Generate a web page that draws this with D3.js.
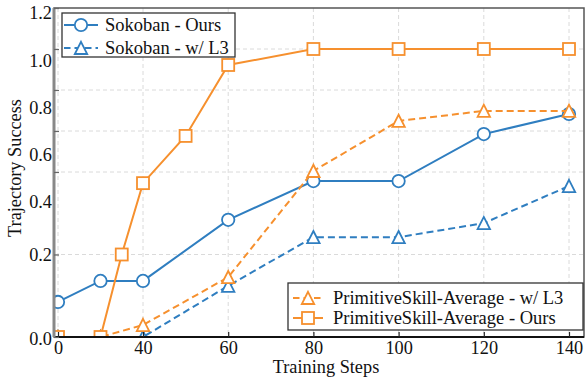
<!DOCTYPE html>
<html>
<head>
<meta charset="utf-8">
<script src="https://cdn.jsdelivr.net/npm/d3@7"></script>
<style>
  body { margin: 0; background: #fff; }
  svg { display: block; }
  text { font-family: "Liberation Serif", "Times New Roman", serif; fill: #111; }
</style>
</head>
<body>
<svg id="chart" width="588" height="378"></svg>
<script>
// Training steps at which each run was evaluated
const steps = [0, 20, 40, 60, 80, 100, 120, 140];
const stepsFine = [0, 20, 30, 40, 50, 60, 80, 100, 120, 140];

// Trajectory success per run
const sokobanOurs = [0.085, 0.136, 0.136, 0.284, 0.378, 0.378, 0.585, 0.683];
const sokobanL3   = [0, 0, 0, 0.124, 0.242, 0.242, 0.276, 0.366];
const primL3      = [0, 0, 0.029, 0.145, 0.405, 0.649, 0.698, 0.698];
const primOurs    = [0, 0, 0.2, 0.373, 0.576, 0.922, 1.0, 1.0, 1.0, 1.0];

// Axis ticks
const xTicks = [0, 40, 60, 80, 100, 120, 140];
const yTicks = [0, 0.2, 0.4, 0.6, 0.8, 1.0, 1.2];
const yTickLabels = ["0.0", "0.2", "0.4", "0.6", "0.8", "1.0", "1.2"];

const BLUE = "#2f7ec0";
const ORANGE = "#f6902e";

const series = [
  { name: "Sokoban - Ours",  xs: steps, ys: sokobanOurs, color: BLUE, dashed: false, marker: "circle" },
  { name: "Sokoban - w/ L3", xs: steps, ys: sokobanL3,   color: BLUE, dashed: true,  marker: "triangle" },
  { name: "PrimitiveSkill-Average - w/ L3", xs: steps, ys: primL3, color: ORANGE, dashed: true, marker: "triangle" },
  { name: "PrimitiveSkill-Average - Ours",  xs: stepsFine, ys: primOurs, color: ORANGE, dashed: false, marker: "square" }
];

const svg = d3.select("#chart");
const box = { left: 54, right: 584, top: 8, bottom: 337 };

// Piecewise scales: early steps and low success values are spread out
const x = d3.scaleLinear().domain([0, 40, 140]).range([58, 143, 569]);
const y = d3.scaleLinear().domain([0, 0.4, 1.2]).range([box.bottom, 172, box.top]);
// Where the y tick labels sit
const yLabelPos = d3.scaleLinear().domain([0, 0.2, 0.4, 1.2]).range([339, 255, 202, 13]);

// Grid
const grid = svg.append("g").attr("stroke", "#dadada").attr("stroke-width", 1).attr("stroke-dasharray", "4,3");
grid.selectAll("line.gx").data(xTicks).join("line")
  .attr("x1", d => x(d)).attr("x2", d => x(d))
  .attr("y1", box.top).attr("y2", box.bottom);
grid.selectAll("line.gy").data(yTicks.filter(v => v > 0 && v < 1.2)).join("line")
  .attr("x1", box.left).attr("x2", box.right)
  .attr("y1", d => y(d)).attr("y2", d => y(d));

// Frame
svg.append("rect")
  .attr("x", box.left).attr("y", box.top)
  .attr("width", box.right - box.left).attr("height", box.bottom - box.top)
  .attr("fill", "none").attr("stroke", "#555").attr("stroke-width", 1.5);

// Series
svg.append("clipPath").attr("id", "plotClip").append("rect")
  .attr("x", box.left).attr("y", box.top)
  .attr("width", box.right - box.left).attr("height", box.bottom - box.top);

const plot = svg.append("g").attr("clip-path", "url(#plotClip)");
const line = d3.line().x(d => x(d[0])).y(d => y(d[1]));

function drawMarker(g, kind, color) {
  if (kind === "circle") {
    g.append("circle").attr("r", 6.2);
  } else if (kind === "triangle") {
    g.append("path").attr("d", "M0,-6.2L6.2,6L-6.2,6Z");
  } else {
    g.append("rect").attr("x", -6).attr("y", -6).attr("width", 12).attr("height", 12);
  }
  g.selectAll("*").attr("fill", "#fff").attr("stroke", color).attr("stroke-width", 1.8);
}

series.forEach(s => {
  const pts = s.xs.map((v, i) => [v, s.ys[i]]);
  plot.append("path").datum(pts)
    .attr("d", line)
    .attr("fill", "none")
    .attr("stroke", s.color)
    .attr("stroke-width", 2)
    .attr("stroke-dasharray", s.dashed ? "7,4" : null);
  pts.forEach(p => {
    const g = plot.append("g").attr("transform", `translate(${x(p[0])},${y(p[1])})`);
    drawMarker(g, s.marker, s.color);
  });
});

// Axes
const xAxis = d3.axisBottom(x).tickValues(xTicks).tickSizeInner(-5).tickSizeOuter(0).tickPadding(5)
  .tickFormat(d3.format("d"));
const gx = svg.append("g").attr("transform", `translate(0,${box.bottom})`).call(xAxis);
gx.select(".domain").attr("d", `M${box.left},0H${box.right}`).attr("stroke", "#111").attr("stroke-width", 1.8);
gx.selectAll(".tick line").attr("stroke", "#222").attr("stroke-width", 1.2);
gx.selectAll(".tick text").attr("font-size", 18.3).attr("font-family", "Liberation Serif").attr("fill", "#111").attr("dy", "0.66em");

const yAxis = d3.axisLeft(y).tickValues(yTicks).tickSizeInner(-5).tickSizeOuter(0).tickPadding(2)
  .tickFormat((d, i) => yTickLabels[i]);
const gy = svg.append("g").attr("transform", `translate(${box.left},0)`).call(yAxis);
gy.select(".domain").attr("d", `M0,${box.top}V${box.bottom}`).attr("stroke", "#888").attr("stroke-width", 3);
gy.selectAll(".tick line").attr("stroke", "#666").attr("stroke-width", 1.2);
gy.selectAll(".tick text")
  .attr("font-size", 18.3).attr("font-family", "Liberation Serif").attr("fill", "#111")
  .attr("y", d => yLabelPos(d) - y(d));

// Axis titles
svg.append("text").attr("x", 326).attr("y", 373).attr("text-anchor", "middle")
  .attr("font-size", 18.3).text("Training Steps");
svg.append("text").attr("transform", "translate(21,168) rotate(-90)").attr("text-anchor", "middle")
  .attr("font-size", 18.3).text("Trajectory Success");

// Legends
function legend(items, bx, by, bw, bh, rowY, handleX0, handleX1, textX) {
  const g = svg.append("g");
  g.append("rect").attr("x", bx).attr("y", by).attr("width", bw).attr("height", bh)
    .attr("fill", "#fff").attr("stroke", "#333").attr("stroke-width", 1.3);
  items.forEach((s, i) => {
    const cy = rowY[i];
    g.append("line").attr("x1", handleX0).attr("x2", handleX1).attr("y1", cy).attr("y2", cy)
      .attr("stroke", s.color).attr("stroke-width", 2)
      .attr("stroke-dasharray", s.dashed ? "6.5,4" : null);
    const m = g.append("g").attr("transform", `translate(${(handleX0 + handleX1) / 2},${cy})`);
    drawMarker(m, s.marker, s.color);
    g.append("text").attr("x", textX).attr("y", cy).attr("dy", "0.33em")
      .attr("font-size", 18.5).text(s.name);
  });
}
legend([series[0], series[1]], 62, 13, 173, 44, [25, 48], 64, 98, 105);
legend([series[2], series[3]], 288, 283, 295, 47, [298, 318], 293, 323, 333);
</script>
</body>
</html>
